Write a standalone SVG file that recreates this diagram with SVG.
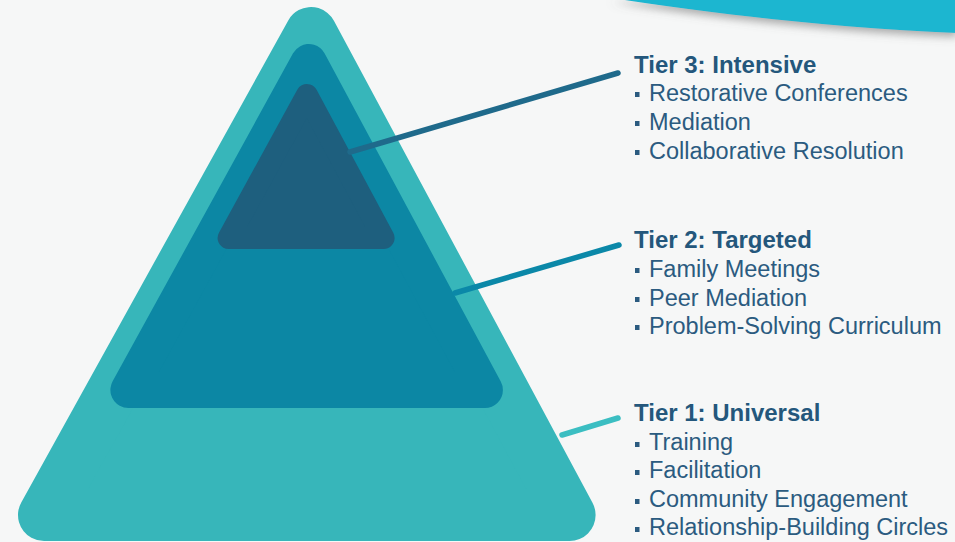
<svg xmlns="http://www.w3.org/2000/svg" width="955" height="542" viewBox="0 0 955 542">
  <defs>
    <filter id="shadow" x="-10%" y="-50%" width="120%" height="250%">
      <feDropShadow dx="0" dy="4" stdDeviation="4" flood-color="#6b6b6b" flood-opacity="0.55"/>
    </filter>
    <style>
      .tier { stroke-linejoin: round; }
      .t1 { fill: #37b6ba; stroke: #37b6ba; stroke-width: 52; }
      .t2 { fill: #0c87a4; stroke: #0c87a4; stroke-width: 36; }
      .t3 { fill: #1e5f7e; stroke: #1e5f7e; stroke-width: 22; }
      .conn { fill: none; stroke-width: 5.5; stroke-linecap: round; }
      .title { font-family: "Liberation Sans", Arial, sans-serif; font-weight: bold; font-size: 24px; fill: #24577c; }
      .item { font-family: "Liberation Sans", Arial, sans-serif; font-size: 23.5px; fill: #2b5b80; }
      .bul { fill: #2b5b80; }
    </style>
  </defs>
  <rect x="0" y="0" width="955" height="542" fill="#f6f7f7"/>
  <g id="banner">
    <path d="M 612 -2 C 700 12 830 28 957 33 L 957 -2 Z" fill="#1bb6d0" filter="url(#shadow)"/>
  </g>
  <g id="tier1-shape">
    <polygon class="tier t1" points="311,33 44,515 569.6,515"/>
  </g>
  <g id="tier2-shape">
    <polygon class="tier t2" points="308.8,62 128.4,390 484.9,390"/>
  </g>
  <g id="tier3-shape">
    <polygon class="tier t3" points="306.9,95 228.6,238 383.6,238"/>
  </g>
  <g id="connectors">
    <line class="conn" x1="350" y1="152" x2="618" y2="73" stroke="#1f6a8b"/>
    <line class="conn" x1="455" y1="293" x2="619" y2="245" stroke="#0b88a8"/>
    <line class="conn" x1="562" y1="435" x2="618" y2="418" stroke="#3bbec2"/>
  </g>
  <g id="tier3-label">
    <text class="title" x="634" y="73">Tier 3: Intensive</text>
    <rect class="bul" x="635" y="92" width="4.5" height="5"/>
    <text class="item" x="649" y="101">Restorative Conferences</text>
    <rect class="bul" x="635" y="121" width="4.5" height="5"/>
    <text class="item" x="649" y="130">Mediation</text>
    <rect class="bul" x="635" y="150" width="4.5" height="5"/>
    <text class="item" x="649" y="159">Collaborative Resolution</text>
  </g>
  <g id="tier2-label">
    <text class="title" x="634" y="248">Tier 2: Targeted</text>
    <rect class="bul" x="635" y="268" width="4.5" height="5"/>
    <text class="item" x="649" y="277">Family Meetings</text>
    <rect class="bul" x="635" y="297" width="4.5" height="5"/>
    <text class="item" x="649" y="306">Peer Mediation</text>
    <rect class="bul" x="635" y="325" width="4.5" height="5"/>
    <text class="item" x="649" y="334">Problem-Solving Curriculum</text>
  </g>
  <g id="tier1-label">
    <text class="title" x="634" y="421">Tier 1: Universal</text>
    <rect class="bul" x="635" y="442" width="4.5" height="5"/>
    <text class="item" x="649" y="450">Training</text>
    <rect class="bul" x="635" y="470" width="4.5" height="5"/>
    <text class="item" x="649" y="478">Facilitation</text>
    <rect class="bul" x="635" y="499" width="4.5" height="5"/>
    <text class="item" x="649" y="507">Community Engagement</text>
    <rect class="bul" x="635" y="527" width="4.5" height="5"/>
    <text class="item" x="649" y="535">Relationship-Building Circles</text>
  </g>
</svg>
